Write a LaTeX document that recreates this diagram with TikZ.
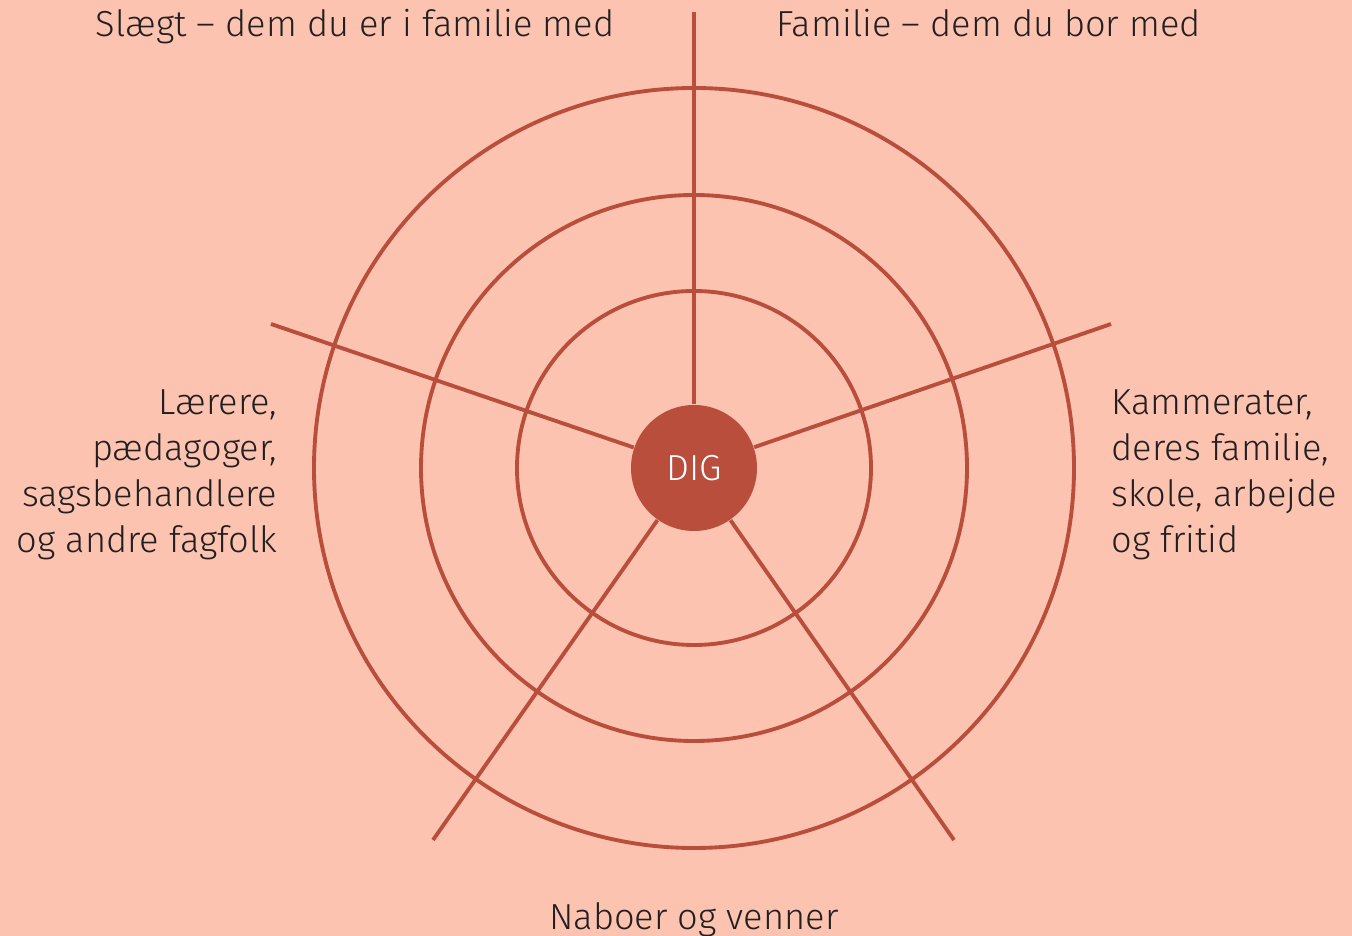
\documentclass[tikz,border=0pt]{standalone}
\usepackage{fontspec}
\setmainfont{Fira Sans Light}
\usepackage{xcolor}
\usepackage{tikz}
\usetikzlibrary{positioning,calc}

\definecolor{bgrose}{HTML}{FCC3B0}
\definecolor{rustred}{HTML}{B94E3D}
\definecolor{inkgray}{HTML}{231F20}

\tikzset{
	ring/.style = {draw=rustred, line width=1.1pt},
	spoke/.style = {draw=rustred, line width=1.1pt},
	centre/.style = {
			circle,
			fill            = rustred,
			text            = white,
			minimum size    = 1.26cm,
			inner sep       = 0pt,
			font            = \fontsize{10.3}{12}\selectfont,
		},
	label/.style = {
			text = inkgray,
			font = \fontsize{10.3}{13.1}\selectfont,
			inner sep = 0pt,
		}
}

\begin{document}
\begin{tikzpicture}
		\useasboundingbox[fill=bgrose] (-6.94,-4.68) rectangle (6.58,4.68);

		% rings
		\draw[ring] (0,0) circle (1.77);
		\draw[ring] (0,0) circle (2.73);
		\draw[ring] (0,0) circle (3.80);

		\node[centre] at (0,0) (dig) {DIG};

		% spoke ends
		\coordinate (top) at (0,4.56);
		\coordinate (right) at (4.17,1.44);
		\coordinate (left) at (-4.23,1.44);
		\coordinate (lowleft) at (-2.61,-3.72);
		\coordinate (lowright) at (2.60,-3.72);

		\draw[spoke] (dig) -- (top);
		\draw[spoke] (dig) -- (right);
		\draw[spoke] (dig) -- (left);
		\draw[spoke] (dig) -- (lowleft);
		\draw[spoke] (dig) -- (lowright);

		\node[label, anchor=base east] at (-0.79,4.31) (slaegt) {Slægt – dem du er i familie med};
		\node[label, anchor=base west] at (0.82,4.31) (familie) {Familie – dem du bor med};
		\node[label, anchor=east, align=right] at (-4.16,-0.07) (laerere)
			{Lærere,\\pædagoger,\\sagsbehandlere\\og andre fagfolk};
		\node[label, anchor=west, align=left] at (4.17,-0.07) (kammerater)
			{Kammerater,\\deres familie,\\skole, arbejde\\og fritid};
		\node[label, anchor=base] at (0,-4.61) (naboer) {Naboer og venner};
	\end{tikzpicture}
\end{document}
